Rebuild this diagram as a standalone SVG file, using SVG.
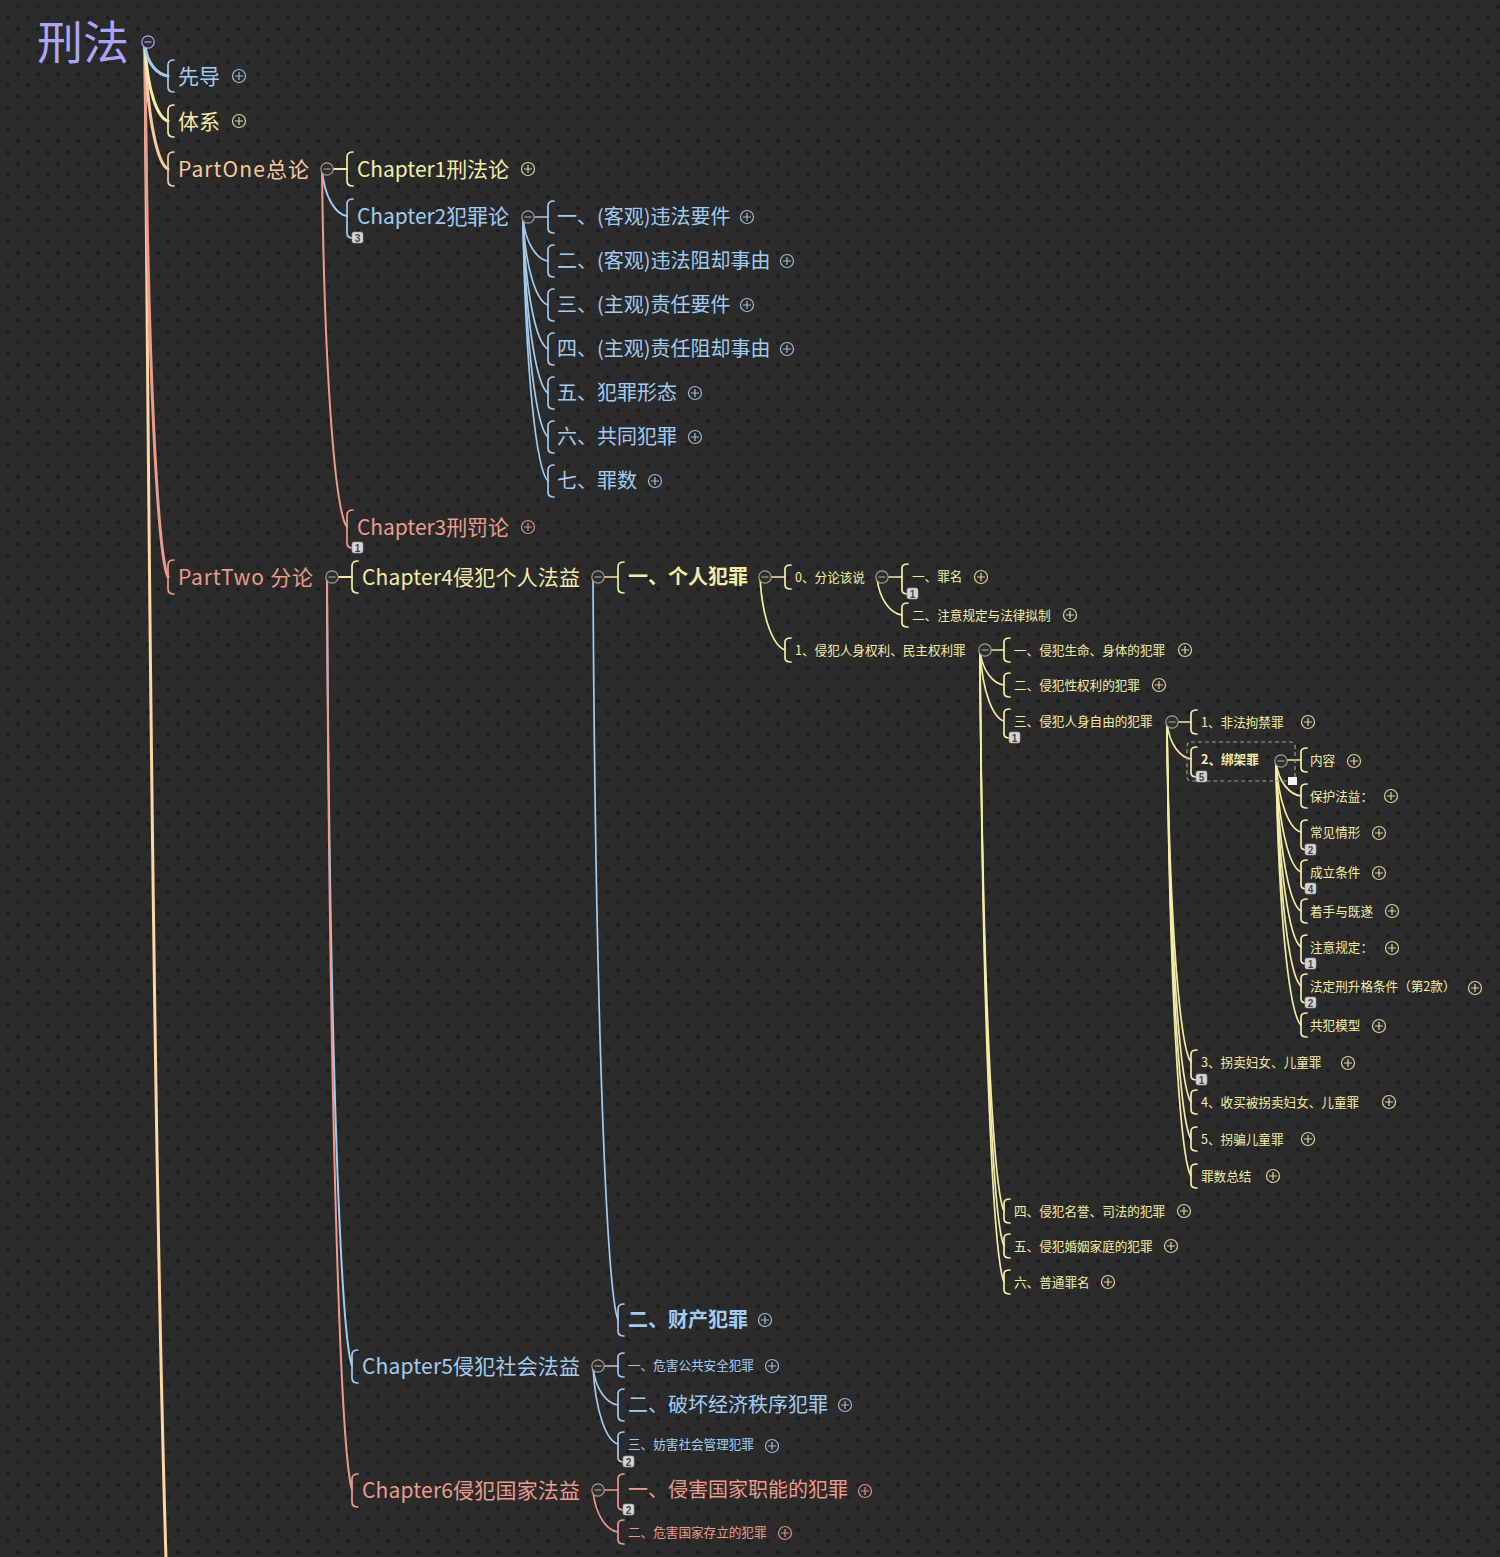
<svg xmlns="http://www.w3.org/2000/svg" xmlns:xlink="http://www.w3.org/1999/xlink" width="1500" height="1557" viewBox="0 0 1500 1557">
<defs>
<style>
text{font-family:"Noto Sans CJK SC","Noto Sans",sans-serif;stroke:none}
.y{fill:#f3eda6}.b{fill:#a2cbf0}.p{fill:#f7ca9f}.s{fill:#ec9b8c}.l{fill:#aaa6f5}
.f21{font-size:21px}.f20{font-size:20px}.f12{font-size:12.6px}.bold{font-weight:bold}
.br{fill:none;stroke-width:1.7;stroke-linecap:round}
.ky .br{stroke:#f3eda6}.kb .br{stroke:#a2cbf0}.kp .br{stroke:#f7ca9f}.ks .br{stroke:#ec9b8c}
.ky{color:#d8d3a0}.kb{color:#9fb9d2}.kp{color:#d8b895}.ks{color:#d09488}
.e{fill:none;stroke-linecap:round}
.e0{stroke-width:3}.e1{stroke-width:2}.e2{stroke-width:1.7}
.ey{stroke:#f3eda6}.eb{stroke:#a2cbf0}.ep{stroke:#f7ca9f}.es{stroke:#ec9b8c}.eP{stroke:#fdd6a6}
.badge rect{fill:#d4d4d4;stroke:#9a9a9a;stroke-width:0.6}
.badge text{font-family:"Liberation Sans",sans-serif;font-size:10px;font-weight:bold;fill:#444;text-anchor:middle}
.mn{color:#a29f8e}
</style>
<pattern id="dots" width="20" height="22.4" patternUnits="userSpaceOnUse">
<circle cx="18" cy="6.8" r="2.2" fill="#1e1e1e"/>
<circle cx="8" cy="17.9" r="2.2" fill="#1e1e1e"/>
</pattern>
<g id="pl"><circle r="6.5" fill="none" stroke="currentColor" stroke-width="1.2"/><path d="M-4,0H4M0,-4V4" stroke="currentColor" stroke-width="1.2"/></g>
<g id="mn"><circle r="6.2" fill="#2e2e2e" stroke="currentColor" stroke-width="1.2"/><path d="M-3.5,0H3.5" stroke="currentColor" stroke-width="1.2"/></g>
</defs>
<rect width="1500" height="1557" fill="#2b2b2b"/>
<rect width="1500" height="1557" fill="url(#dots)"/>

<g id="connectors" class="e">
<path class="e e0 eP" d="M145,46 C149,600 155,1250 168,1620"/>
<path class="e e0 es" d="M145,46 C147.3,364.6 157.6,555.8 168,577"/>
<path class="e e0 ep" d="M145,46 C147.3,119.8 157.6,164.1 168,169"/>
<path class="e e0 ey" d="M145,46 C147.3,91 157.6,118 168,121"/>
<path class="e e0 eb" d="M145,46 C147.3,64 157.6,74.8 168,76"/>
<path class="e e1 ey" d="M333,169 H347"/>
<path class="e e1 eb" d="M322,170 C324.5,197.6 335.75,214.2 347,216"/>
<path class="e e1 es" d="M322,170 C324.5,384.2 335.75,512.7 347,527"/>
<path class="e e1 ey" d="M338,577 H352"/>
<path class="e e1 eb" d="M327,578 C329.5,1050.8 340.75,1334.5 352,1366"/>
<path class="e e1 es" d="M327,578 C329.5,1125.2 340.75,1453.5 352,1490"/>
<path class="e e2 eb" d="M534,217 H548"/>
<path class="e e2 eb" d="M523,218 C525.5,243.8 536.75,259.3 548,261"/>
<path class="e e2 eb" d="M523,218 C525.5,270.2 536.75,301.5 548,305"/>
<path class="e e2 eb" d="M523,218 C525.5,296.6 536.75,343.8 548,349"/>
<path class="e e2 eb" d="M523,218 C525.5,323 536.75,386 548,393"/>
<path class="e e2 eb" d="M523,218 C525.5,349.4 536.75,428.2 548,437"/>
<path class="e e2 eb" d="M523,218 C525.5,375.8 536.75,470.5 548,481"/>
<path class="e e2 ey" d="M604,577 H618"/>
<path class="e e2 eb" d="M593,578 C595.5,1023.2 606.75,1290.3 618,1320"/>
<path class="e e2 ey" d="M771,577 H785"/>
<path class="e e2 ey" d="M760,578 C762.5,620.6 773.75,646.2 785,650"/>
<path class="e e2 ey" d="M888,577 H902"/>
<path class="e e2 ey" d="M877,578 C879.5,600.2 890.75,613.5 902,615"/>
<path class="e e2 ey" d="M991,650 H1004"/>
<path class="e e2 ey" d="M980,651 C982.4,671 993.2,683.6 1004,685"/>
<path class="e e2 ey" d="M980,651 C982.4,692.6 993.2,718.2 1004,721"/>
<path class="e e2 ey" d="M980,651 C982.4,986.6 993.2,1188.6 1004,1211"/>
<path class="e e2 ey" d="M980,651 C982.4,1007.6 993.2,1222.2 1004,1246"/>
<path class="e e2 ey" d="M980,651 C982.4,1029.2 993.2,1256.7 1004,1282"/>
<path class="e e2 ey" d="M1178,722 H1191"/>
<path class="e e2 ey" d="M1167,723 C1169.4,744.6 1180.2,757.6 1191,759"/>
<path class="e e2 ey" d="M1167,723 C1169.4,926.4 1180.2,1048.4 1191,1062"/>
<path class="e e2 ey" d="M1167,723 C1169.4,950.4 1180.2,1086.8 1191,1102"/>
<path class="e e2 ey" d="M1167,723 C1169.4,972.6 1180.2,1122.4 1191,1139"/>
<path class="e e2 ey" d="M1167,723 C1169.4,994.8 1180.2,1157.9 1191,1176"/>
<path class="e e2 ey" d="M1287,760 H1301"/>
<path class="e e2 ey" d="M1276,762 C1278.5,782.4 1289.75,794.6 1301,796"/>
<path class="e e2 ey" d="M1276,762 C1278.5,804 1289.75,829.2 1301,832"/>
<path class="e e2 ey" d="M1276,762 C1278.5,828 1289.75,867.6 1301,872"/>
<path class="e e2 ey" d="M1276,762 C1278.5,851.4 1289.75,905 1301,911"/>
<path class="e e2 ey" d="M1276,762 C1278.5,873 1289.75,939.6 1301,947"/>
<path class="e e2 ey" d="M1276,762 C1278.5,896.4 1289.75,977 1301,986"/>
<path class="e e2 ey" d="M1276,762 C1278.5,919.8 1289.75,1014.5 1301,1025"/>
<path class="e e2 eb" d="M604,1366 H618"/>
<path class="e e2 eb" d="M593,1367 C595.5,1389.8 606.75,1403.5 618,1405"/>
<path class="e e2 eb" d="M593,1367 C595.5,1413.2 606.75,1440.9 618,1444"/>
<path class="e e2 es" d="M604,1490 H618"/>
<path class="e e2 es" d="M593,1491 C595.5,1515.6 606.75,1530.4 618,1532"/>
</g>

<g id="n0"><text x="37" y="59" class="l" font-size="46">刑法</text><use href="#mn" x="148" y="42" style="color:#aaa6f5"/></g>

<g id="n1" class="kb"><path class="br" d="M174,60 Q168,60 168,65 V87 Q168,92 174,92"/><text x="178" y="84" class="b f21">先导</text><use href="#pl" x="239" y="76"/></g>
<g id="n2" class="ky"><path class="br" d="M174,105 Q168,105 168,110 V132 Q168,137 174,137"/><text x="178" y="129" class="y f21">体系</text><use href="#pl" x="239" y="121"/></g>
<g id="n3" class="kp"><path class="br" d="M174,152 Q168,152 168,157 V181 Q168,186 174,186"/><text x="178" y="177" class="p f21" textLength="131" lengthAdjust="spacing">PartOne总论</text><use class="mn" href="#mn" x="327" y="169"/></g>
<g id="n4" class="ks"><path class="br" d="M174,560 Q168,560 168,565 V589 Q168,594 174,594"/><text x="178" y="585" class="s f21" textLength="135" lengthAdjust="spacing">PartTwo 分论</text><use class="mn" href="#mn" x="332" y="577"/></g>

<g id="n5" class="ky"><path class="br" d="M353,152 Q347,152 347,157 V181 Q347,186 353,186"/><text x="357" y="177" class="y f21" textLength="152" lengthAdjust="spacing">Chapter1刑法论</text><use href="#pl" x="528" y="169"/></g>
<g id="n6" class="kb"><path class="br" d="M353,199 Q347,199 347,204 V233 Q347,238 353,238"/><text x="357" y="224" class="b f21" textLength="152" lengthAdjust="spacing">Chapter2犯罪论</text><g class="badge"><rect x="352" y="232" width="11" height="11" rx="2"/><text x="357.5" y="241.5">3</text></g><use class="mn" href="#mn" x="528" y="217"/></g>
<g id="n7" class="ks"><path class="br" d="M353,510 Q347,510 347,515 V543 Q347,548 353,548"/><text x="357" y="535" class="s f21" textLength="152" lengthAdjust="spacing">Chapter3刑罚论</text><g class="badge"><rect x="352" y="542" width="11" height="11" rx="2"/><text x="357.5" y="551.5">1</text></g><use href="#pl" x="528" y="527"/></g>

<g id="n8" class="kb"><path class="br" d="M554,201 Q548,201 548,206 V228 Q548,233 554,233"/><text x="557" y="224.4" class="b f20">一、(客观)违法要件</text><use href="#pl" x="747" y="217"/></g>
<g id="n9" class="kb"><path class="br" d="M554,245 Q548,245 548,250 V272 Q548,277 554,277"/><text x="557" y="268.4" class="b f20">二、(客观)违法阻却事由</text><use href="#pl" x="787" y="261"/></g>
<g id="n10" class="kb"><path class="br" d="M554,289 Q548,289 548,294 V316 Q548,321 554,321"/><text x="557" y="312.4" class="b f20">三、(主观)责任要件</text><use href="#pl" x="747" y="305"/></g>
<g id="n11" class="kb"><path class="br" d="M554,333 Q548,333 548,338 V360 Q548,365 554,365"/><text x="557" y="356.4" class="b f20">四、(主观)责任阻却事由</text><use href="#pl" x="787" y="349"/></g>
<g id="n12" class="kb"><path class="br" d="M554,377 Q548,377 548,382 V404 Q548,409 554,409"/><text x="557" y="400.4" class="b f20">五、犯罪形态</text><use href="#pl" x="695" y="393"/></g>
<g id="n13" class="kb"><path class="br" d="M554,421 Q548,421 548,426 V448 Q548,453 554,453"/><text x="557" y="444.4" class="b f20">六、共同犯罪</text><use href="#pl" x="695" y="437"/></g>
<g id="n14" class="kb"><path class="br" d="M554,465 Q548,465 548,470 V492 Q548,497 554,497"/><text x="557" y="488.4" class="b f20">七、罪数</text><use href="#pl" x="655" y="481"/></g>

<g id="n15" class="ky"><path class="br" d="M358,561 Q352,561 352,566 V588 Q352,593 358,593"/><text x="362" y="585" class="y f21" textLength="218" lengthAdjust="spacing">Chapter4侵犯个人法益</text><use class="mn" href="#mn" x="598" y="577"/></g>
<g id="n16" class="ky"><path class="br" d="M624,562 Q618,562 618,567 V588 Q618,593 624,593"/><text x="628" y="584.4" class="y f20 bold">一、个人犯罪</text><use class="mn" href="#mn" x="765" y="577"/></g>
<g id="n17" class="ky"><path class="br" d="M791,565 Q785,565 785,569 V585 Q785,589 791,589"/><text x="795" y="581.6" class="y f12">0、分论该说</text><use class="mn" href="#mn" x="882" y="577"/></g>
<g id="n18" class="ky"><path class="br" d="M908,564 Q902,564 902,568 V590 Q902,594 908,594"/><text x="912" y="580.6" class="y f12">一、罪名</text><g class="badge"><rect x="907" y="588" width="11" height="11" rx="2"/><text x="912.5" y="597.5">1</text></g><use href="#pl" x="981" y="577"/></g>
<g id="n19" class="ky"><path class="br" d="M908,603 Q902,603 902,607 V623 Q902,627 908,627"/><text x="912" y="619.6" class="y f12">二、注意规定与法律拟制</text><use href="#pl" x="1070" y="615"/></g>
<g id="n20" class="ky"><path class="br" d="M791,638 Q785,638 785,642 V658 Q785,662 791,662"/><text x="795" y="654.6" class="y f12">1、侵犯人身权利、民主权利罪</text><use class="mn" href="#mn" x="985" y="650"/></g>
<g id="n21" class="ky"><path class="br" d="M1010,638 Q1004,638 1004,642 V658 Q1004,662 1010,662"/><text x="1014" y="654.6" class="y f12">一、侵犯生命、身体的犯罪</text><use href="#pl" x="1185" y="650"/></g>
<g id="n22" class="ky"><path class="br" d="M1010,673 Q1004,673 1004,677 V693 Q1004,697 1010,697"/><text x="1014" y="689.6" class="y f12">二、侵犯性权利的犯罪</text><use href="#pl" x="1159" y="685"/></g>
<g id="n23" class="ky"><path class="br" d="M1010,709 Q1004,709 1004,713 V734 Q1004,738 1010,738"/><text x="1014" y="725.6" class="y f12">三、侵犯人身自由的犯罪</text><g class="badge"><rect x="1009" y="732" width="11" height="11" rx="2"/><text x="1014.5" y="741.5">1</text></g><use class="mn" href="#mn" x="1172" y="722"/></g>
<g id="n24" class="ky"><path class="br" d="M1197,710 Q1191,710 1191,714 V730 Q1191,734 1197,734"/><text x="1201" y="726.6" class="y f12">1、非法拘禁罪</text><use href="#pl" x="1308" y="722"/></g>
<g id="n25" class="ky"><rect x="1187" y="742" width="108" height="39" rx="4" fill="none" stroke="#9a9a9a" stroke-width="1.2" stroke-dasharray="4,3"/><path class="br" d="M1197,747 Q1191,747 1191,751 V773 Q1191,777 1197,777"/><text x="1201" y="763.6" class="y f12 bold">2、绑架罪</text><g class="badge"><rect x="1196" y="771" width="11" height="11" rx="2"/><text x="1201.5" y="780.5">5</text></g><use class="mn" href="#mn" x="1281" y="761"/><rect x="1288" y="777" width="9" height="8" fill="#f4f4f4"/></g>
<g id="n26" class="ky"><path class="br" d="M1307,748 Q1301,748 1301,752 V768 Q1301,772 1307,772"/><text x="1310" y="764.6" class="y f12">内容</text><use href="#pl" x="1354" y="761"/></g>
<g id="n27" class="ky"><path class="br" d="M1307,784 Q1301,784 1301,788 V804 Q1301,808 1307,808"/><text x="1310" y="800.6" class="y f12">保护法益：</text><use href="#pl" x="1391" y="796"/></g>
<g id="n28" class="ky"><path class="br" d="M1307,820 Q1301,820 1301,824 V846 Q1301,850 1307,850"/><text x="1310" y="836.6" class="y f12">常见情形</text><g class="badge"><rect x="1305" y="844" width="11" height="11" rx="2"/><text x="1310.5" y="853.5">2</text></g><use href="#pl" x="1379" y="833"/></g>
<g id="n29" class="ky"><path class="br" d="M1307,860 Q1301,860 1301,864 V885 Q1301,889 1307,889"/><text x="1310" y="876.6" class="y f12">成立条件</text><g class="badge"><rect x="1305" y="883" width="11" height="11" rx="2"/><text x="1310.5" y="892.5">4</text></g><use href="#pl" x="1379" y="873"/></g>
<g id="n30" class="ky"><path class="br" d="M1307,899 Q1301,899 1301,903 V919 Q1301,923 1307,923"/><text x="1310" y="915.6" class="y f12">着手与既遂</text><use href="#pl" x="1392" y="911"/></g>
<g id="n31" class="ky"><path class="br" d="M1307,935 Q1301,935 1301,939 V960 Q1301,964 1307,964"/><text x="1310" y="951.6" class="y f12">注意规定：</text><g class="badge"><rect x="1305" y="958" width="11" height="11" rx="2"/><text x="1310.5" y="967.5">1</text></g><use href="#pl" x="1392" y="948"/></g>
<g id="n32" class="ky"><path class="br" d="M1307,974 Q1301,974 1301,978 V999 Q1301,1003 1307,1003"/><text x="1310" y="990.6" class="y f12">法定刑升格条件（第2款）</text><g class="badge"><rect x="1305" y="997" width="11" height="11" rx="2"/><text x="1310.5" y="1006.5">2</text></g><use href="#pl" x="1475" y="988"/></g>
<g id="n33" class="ky"><path class="br" d="M1307,1013 Q1301,1013 1301,1017 V1033 Q1301,1037 1307,1037"/><text x="1310" y="1029.6" class="y f12">共犯模型</text><use href="#pl" x="1379" y="1026"/></g>
<g id="n34" class="ky"><path class="br" d="M1197,1050 Q1191,1050 1191,1054 V1076 Q1191,1080 1197,1080"/><text x="1201" y="1066.6" class="y f12">3、拐卖妇女、儿童罪</text><g class="badge"><rect x="1196" y="1074" width="11" height="11" rx="2"/><text x="1201.5" y="1083.5">1</text></g><use href="#pl" x="1348" y="1063"/></g>
<g id="n35" class="ky"><path class="br" d="M1197,1090 Q1191,1090 1191,1094 V1110 Q1191,1114 1197,1114"/><text x="1201" y="1106.6" class="y f12">4、收买被拐卖妇女、儿童罪</text><use href="#pl" x="1389" y="1102"/></g>
<g id="n36" class="ky"><path class="br" d="M1197,1127 Q1191,1127 1191,1131 V1147 Q1191,1151 1197,1151"/><text x="1201" y="1143.6" class="y f12">5、拐骗儿童罪</text><use href="#pl" x="1308" y="1139"/></g>
<g id="n37" class="ky"><path class="br" d="M1197,1164 Q1191,1164 1191,1168 V1184 Q1191,1188 1197,1188"/><text x="1201" y="1180.6" class="y f12">罪数总结</text><use href="#pl" x="1273" y="1176"/></g>
<g id="n38" class="ky"><path class="br" d="M1010,1199 Q1004,1199 1004,1203 V1219 Q1004,1223 1010,1223"/><text x="1014" y="1215.6" class="y f12">四、侵犯名誉、司法的犯罪</text><use href="#pl" x="1184" y="1211"/></g>
<g id="n39" class="ky"><path class="br" d="M1010,1234 Q1004,1234 1004,1238 V1254 Q1004,1258 1010,1258"/><text x="1014" y="1250.6" class="y f12">五、侵犯婚姻家庭的犯罪</text><use href="#pl" x="1171" y="1246"/></g>
<g id="n40" class="ky"><path class="br" d="M1010,1270 Q1004,1270 1004,1274 V1290 Q1004,1294 1010,1294"/><text x="1014" y="1286.6" class="y f12">六、普通罪名</text><use href="#pl" x="1108" y="1282"/></g>

<g id="n41" class="kb"><path class="br" d="M624,1304 Q618,1304 618,1309 V1331 Q618,1336 624,1336"/><text x="628" y="1327.4" class="b f20 bold">二、财产犯罪</text><use href="#pl" x="765" y="1320"/></g>
<g id="n42" class="kb"><path class="br" d="M358,1350 Q352,1350 352,1355 V1378 Q352,1383 358,1383"/><text x="362" y="1374" class="b f21" textLength="218" lengthAdjust="spacing">Chapter5侵犯社会法益</text><use class="mn" href="#mn" x="598" y="1366"/></g>
<g id="n43" class="kb"><path class="br" d="M624,1353 Q618,1353 618,1357 V1373 Q618,1377 624,1377"/><text x="628" y="1369.6" class="b f12">一、危害公共安全犯罪</text><use href="#pl" x="772" y="1366"/></g>
<g id="n44" class="kb"><path class="br" d="M624,1389 Q618,1389 618,1394 V1416 Q618,1421 624,1421"/><text x="628" y="1412.4" class="b f20">二、破坏经济秩序犯罪</text><use href="#pl" x="845" y="1405"/></g>
<g id="n45" class="kb"><path class="br" d="M624,1432 Q618,1432 618,1436 V1458 Q618,1462 624,1462"/><text x="628" y="1448.6" class="b f12">三、妨害社会管理犯罪</text><g class="badge"><rect x="623" y="1456" width="11" height="11" rx="2"/><text x="628.5" y="1465.5">2</text></g><use href="#pl" x="772" y="1446"/></g>
<g id="n46" class="ks"><path class="br" d="M358,1474 Q352,1474 352,1479 V1502 Q352,1507 358,1507"/><text x="362" y="1498" class="s f21" textLength="218" lengthAdjust="spacing">Chapter6侵犯国家法益</text><use class="mn" href="#mn" x="598" y="1490"/></g>
<g id="n47" class="ks"><path class="br" d="M624,1474 Q618,1474 618,1479 V1506 Q618,1510 624,1510"/><text x="628" y="1497.4" class="s f20">一、侵害国家职能的犯罪</text><g class="badge"><rect x="623" y="1504" width="11" height="11" rx="2"/><text x="628.5" y="1513.5">2</text></g><use href="#pl" x="865" y="1491"/></g>
<g id="n48" class="ks"><path class="br" d="M624,1520 Q618,1520 618,1524 V1540 Q618,1544 624,1544"/><text x="628" y="1536.6" class="s f12">二、危害国家存立的犯罪</text><use href="#pl" x="785" y="1533"/></g>
</svg>
